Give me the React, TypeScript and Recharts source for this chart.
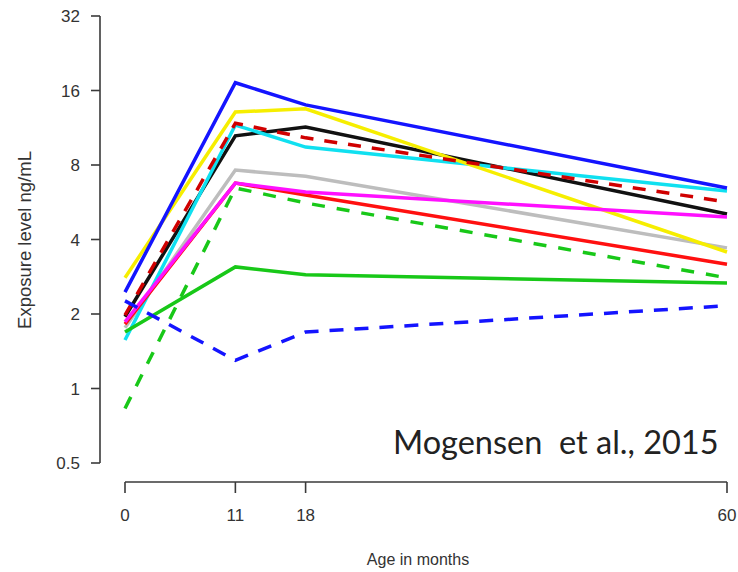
import React from "react";
import { LineChart, Line, XAxis, YAxis } from "recharts";

const months = [0, 11, 18, 60];
const yTicks = [0.5, 1, 2, 4, 8, 16, 32];

const blueSolid = [2.45, 17.2, 14.0, 6.46];
const yellow = [2.8, 13.1, 13.5, 3.56];
const black = [1.95, 10.5, 11.4, 5.07];
const redDashed = [1.98, 11.8, 10.3, 5.67];
const cyan = [1.57, 11.6, 9.45, 6.28];
const gray = [1.76, 7.63, 7.21, 3.7];
const magenta = [1.86, 6.76, 6.22, 4.93];
const redSolid = [1.82, 6.76, 6.05, 3.18];
const greenDashed = [0.83, 6.46, 5.62, 2.8];
const greenSolid = [1.69, 3.1, 2.88, 2.67];
const blueDashed = [2.26, 1.3, 1.69, 2.16];

const series = [
  { key: "gray", values: gray, color: "#bdbdbd", dash: undefined },
  { key: "black", values: black, color: "#111111", dash: undefined },
  { key: "cyan", values: cyan, color: "#10e0f0", dash: undefined },
  { key: "yellow", values: yellow, color: "#f6ee00", dash: undefined },
  { key: "blueSolid", values: blueSolid, color: "#1414ff", dash: undefined },
  { key: "redDashed", values: redDashed, color: "#d00000", dash: "13 11" },
  { key: "redSolid", values: redSolid, color: "#ff1010", dash: undefined },
  { key: "magenta", values: magenta, color: "#ff10ff", dash: undefined },
  { key: "greenSolid", values: greenSolid, color: "#18c818", dash: undefined },
  { key: "greenDashed", values: greenDashed, color: "#18c818", dash: "13 12" },
  { key: "blueDashed", values: blueDashed, color: "#1414ff", dash: "14 11" },
];

const data = months.map((m, i) => {
  const row: Record<string, number> = { month: m };
  series.forEach((s) => {
    row[s.key] = s.values[i];
  });
  return row;
});

const FONT = "'Liberation Sans', Arial, sans-serif";
const AXIS = "#3a3a3a";

const XTick = (props: any) => {
  const { x, y, payload } = props;
  return (
    <g>
      <line x1={x} x2={x} y1={y + 19} y2={y + 30} stroke={AXIS} strokeWidth={1.6} />
      <text x={x} y={y + 58} textAnchor="middle" fontFamily={FONT} fontSize={17} fill="#333">
        {payload.value}
      </text>
    </g>
  );
};

const YTick = (props: any) => {
  const { x, y, payload } = props;
  return (
    <g>
      <line x1={x - 34} x2={x - 25} y1={y} y2={y} stroke={AXIS} strokeWidth={1.6} />
      <text x={x - 45} y={y} dy="0.36em" textAnchor="end" fontFamily={FONT} fontSize={17} fill="#333">
        {payload.value}
      </text>
    </g>
  );
};

export default function App() {
  return (
    <div style={{ position: "absolute", left: 0, top: 0, width: 738, height: 572, background: "#fff" }}>
      <LineChart width={738} height={572} data={data} margin={{ top: 16, right: 11, bottom: 79, left: 65 }}>
        <XAxis
          dataKey="month"
          type="number"
          domain={[0, 60]}
          ticks={months}
          height={30}
          tickSize={0}
          tickMargin={0}
          tickLine={false}
          tick={XTick}
          axisLine={{ stroke: AXIS, strokeWidth: 1.6, transform: "translate(0,19)" }}
        />
        <YAxis
          scale="log"
          domain={[0.5, 32]}
          ticks={yTicks}
          allowDataOverflow
          width={60}
          tickSize={0}
          tickMargin={0}
          tickLine={false}
          tick={YTick}
          axisLine={{ stroke: AXIS, strokeWidth: 1.6, transform: "translate(-25,0)" }}
        />
        {series.map((s) => (
          <Line
            key={s.key}
            dataKey={s.key}
            stroke={s.color}
            strokeWidth={3.5}
            strokeDasharray={s.dash}
            dot={false}
            activeDot={false}
            isAnimationActive={false}
            strokeLinejoin="miter"
          />
        ))}
      </LineChart>
      <div
        style={{
          position: "absolute",
          left: 418,
          top: 560,
          transform: "translate(-50%,-50%)",
          fontFamily: FONT,
          fontSize: 16,
          color: "#333",
          whiteSpace: "nowrap",
        }}
      >
        Age in months
      </div>
      <div
        style={{
          position: "absolute",
          left: 25,
          top: 240,
          transform: "translate(-50%,-50%) rotate(-90deg)",
          fontFamily: FONT,
          fontSize: 18.5,
          color: "#333",
          whiteSpace: "nowrap",
        }}
      >
        Exposure level ng/mL
      </div>
      <div
        style={{
          position: "absolute",
          left: 393,
          top: 441,
          transform: "translateY(-50%)",
          fontFamily: "Lato, 'Open Sans', sans-serif",
          fontSize: 32.5,
          color: "#222",
          whiteSpace: "pre",
        }}
      >
        Mogensen  et al., 2015
      </div>
    </div>
  );
}
